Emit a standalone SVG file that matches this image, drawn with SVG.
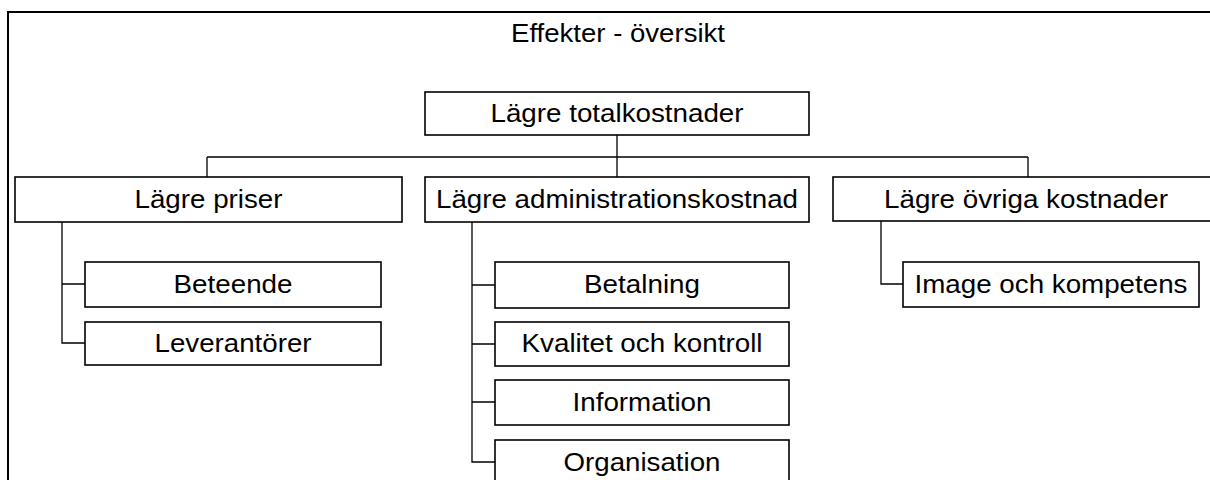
<svg xmlns="http://www.w3.org/2000/svg" width="1210" height="480" viewBox="0 0 1210 480">
<style>
.frame{fill:#fff;stroke:#000;stroke-width:2}
.box{fill:#fff;stroke:#000;stroke-width:1.6}
.conn{fill:none;stroke:#000;stroke-width:1.3}
text{font-family:"Liberation Sans",Arial,sans-serif;font-size:25px;fill:#000;text-anchor:middle}
</style>
<rect class="frame" x="8" y="12" width="1220" height="490"/>
<text id="title" x="618" y="42" textLength="214" lengthAdjust="spacingAndGlyphs">Effekter - översikt</text>
<g id="connectors">
<path class="conn" d="M617 135V177M207 157H1028M207 157V177M1028 157V177"/>
<path class="conn" d="M62 222V343H85M62 284H85"/>
<path class="conn" d="M472 222V462H495M472 285H495M472 344H495M472 402H495"/>
<path class="conn" d="M881 221V284H903"/>
</g>
<g id="n-total"><rect class="box" x="425" y="92" width="384" height="43"/><text x="617" y="122" textLength="253" lengthAdjust="spacingAndGlyphs">Lägre totalkostnader</text></g>
<g id="n-priser"><rect class="box" x="15" y="177" width="387" height="45"/><text x="208.5" y="208" textLength="148" lengthAdjust="spacingAndGlyphs">Lägre priser</text></g>
<g id="n-admin"><rect class="box" x="425" y="177" width="384" height="45"/><text x="617" y="208" textLength="362" lengthAdjust="spacingAndGlyphs">Lägre administrationskostnad</text></g>
<g id="n-ovriga"><rect class="box" x="833" y="177" width="390" height="44"/><text x="1026" y="208" textLength="284" lengthAdjust="spacingAndGlyphs">Lägre övriga kostnader</text></g>
<g id="n-beteende"><rect class="box" x="85" y="262" width="296" height="45"/><text x="233" y="293" textLength="119" lengthAdjust="spacingAndGlyphs">Beteende</text></g>
<g id="n-leverantorer"><rect class="box" x="85" y="322" width="296" height="43"/><text x="233" y="352" textLength="157" lengthAdjust="spacingAndGlyphs">Leverantörer</text></g>
<g id="n-betalning"><rect class="box" x="495" y="262" width="294" height="46"/><text x="642" y="293" textLength="116" lengthAdjust="spacingAndGlyphs">Betalning</text></g>
<g id="n-kvalitet"><rect class="box" x="495" y="322" width="294" height="44"/><text x="642" y="352" textLength="241" lengthAdjust="spacingAndGlyphs">Kvalitet och kontroll</text></g>
<g id="n-information"><rect class="box" x="495" y="380" width="294" height="45"/><text x="642" y="411" textLength="139" lengthAdjust="spacingAndGlyphs">Information</text></g>
<g id="n-organisation"><rect class="box" x="495" y="440" width="294" height="45"/><text x="642" y="471" textLength="157" lengthAdjust="spacingAndGlyphs">Organisation</text></g>
<g id="n-image"><rect class="box" x="903" y="262" width="296" height="45"/><text x="1051" y="293" textLength="273" lengthAdjust="spacingAndGlyphs">Image och kompetens</text></g>
</svg>
